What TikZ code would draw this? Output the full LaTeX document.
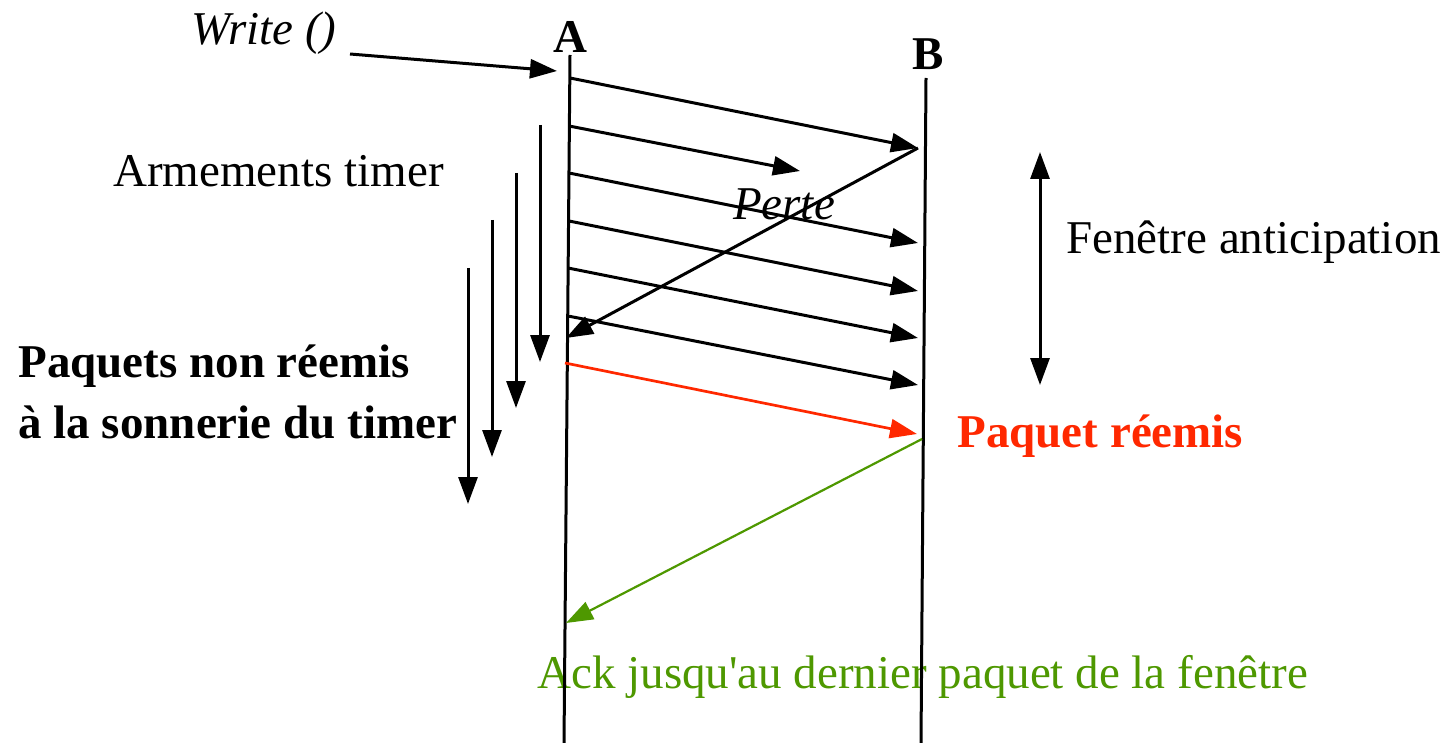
\documentclass[tikz,border=0pt]{standalone}
\usepackage{fontspec}
\setmainfont{Liberation Serif}
\usetikzlibrary{arrows.meta}
\definecolor{redpkt}{RGB}{255,40,0}
\definecolor{ackgreen}{RGB}{78,152,0}

\begin{document}
\begin{tikzpicture}[
  x=0.5pt, y=-0.5pt,
  every node/.style={inner sep=0pt, font=\fontsize{23.5}{24}\selectfont},
  arr/.style={-{Triangle[length=13.5pt,width=9.5pt]}, line width=1.5pt},
  life/.style={line width=1.5pt},
  lbl/.style={anchor=base west}
]
\useasboundingbox (0,0) rectangle (1450,743);

% texts
\node[anchor=base, font=\fontsize{23.5}{24}\selectfont\itshape] (write) at (264,45) {Write ()};
\node[anchor=base, font=\fontsize{23.5}{24}\selectfont\bfseries] (A) at (570,53) {A};
\node[anchor=base, font=\fontsize{23.5}{24}\selectfont\bfseries] (B) at (928,70) {B};
\node[lbl] (arm) at (113,187) {Armements timer};
\node[anchor=base, font=\fontsize{23.5}{24}\selectfont\itshape] (perte) at (784,220) {Perte};
\node[lbl] (fen) at (1066,254) {Fenêtre anticipation};
\node[lbl, text=redpkt, font=\fontsize{23.5}{24}\selectfont\bfseries] (reem) at (957,447) {Paquet réemis};
\node[lbl, font=\fontsize{23.5}{24}\selectfont\bfseries] (pnr1) at (18,377) {Paquets non réemis};
\node[lbl, font=\fontsize{23.5}{24}\selectfont\bfseries] (pnr2) at (18,438) {à la sonnerie du timer};
\node[lbl, text=ackgreen] (ack) at (537,688) {Ack jusqu\textquotesingle au dernier paquet de la fenêtre};

% lifelines
\coordinate (atop) at (570,55);
\coordinate (abot) at (564,743);
\coordinate (btop) at (926,78);
\coordinate (bbot) at (921,743);
\draw[life] (atop) -- (abot);
\draw[life] (btop) -- (bbot);

% packets
\coordinate (w0) at (350,54);  \coordinate (w1) at (557,71);
\coordinate (a1) at (570,78);  \coordinate (b1) at (918,148);
\coordinate (a2) at (569,126); \coordinate (lost) at (800,171);
\coordinate (a3) at (569,173); \coordinate (b3) at (918,243);
\coordinate (a4) at (569,221); \coordinate (b4) at (918,291);
\coordinate (a5) at (568,268); \coordinate (b5) at (918,338);
\coordinate (a6) at (568,316); \coordinate (b6) at (918,385);
\coordinate (aack) at (566,338);
\coordinate (ar) at (565,363); \coordinate (br) at (917,434);
\coordinate (bg) at (922,439); \coordinate (ag) at (566,623);

\draw[arr] (w0) -- (w1);
\draw[arr] (a1) -- (b1);
\draw[arr] (a2) -- (lost);
\draw[arr] (a3) -- (b3);
\draw[arr] (a4) -- (b4);
\draw[arr] (a5) -- (b5);
\draw[arr] (a6) -- (b6);
\draw[arr] (b1) -- (aack);
\draw[arr, redpkt, line width=1.35pt] (ar) -- (br);
\draw[arr, ackgreen, line width=1.1pt] (bg) -- (ag);

% timers
\coordinate (t1s) at (540,125); \coordinate (t1e) at (540,362);
\coordinate (t2s) at (516,173); \coordinate (t2e) at (516,408);
\coordinate (t3s) at (492,220); \coordinate (t3e) at (492,457);
\coordinate (t4s) at (468,268); \coordinate (t4e) at (468,504);
\draw[arr] (t1s) -- (t1e);
\draw[arr] (t2s) -- (t2e);
\draw[arr] (t3s) -- (t3e);
\draw[arr] (t4s) -- (t4e);

% window
\coordinate (fw1) at (1040,152);
\coordinate (fw2) at (1040,385);
\draw[arr, {Triangle[length=13.5pt,width=9.5pt]}-{Triangle[length=13.5pt,width=9.5pt]}] (fw1) -- (fw2);
\end{tikzpicture}
\end{document}
